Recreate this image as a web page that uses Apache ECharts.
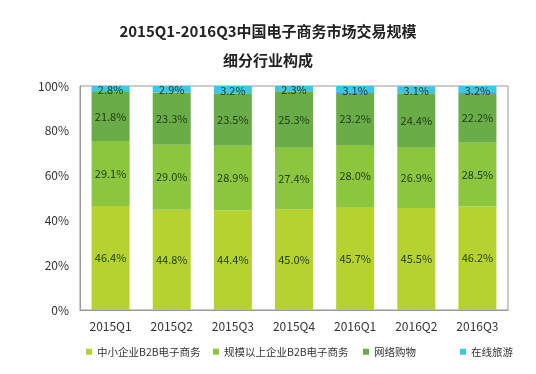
<!DOCTYPE html>
<html><head><meta charset="utf-8">
<script src="https://cdn.jsdelivr.net/npm/echarts@6/dist/echarts.min.js"></script>
<style>html,body{margin:0;padding:0;background:#fff}#c{width:536px;height:374px}</style>
</head><body><div id="c"></div>
<script>
var categories = ['2015Q1','2015Q2','2015Q3','2015Q4','2016Q1','2016Q2','2016Q3'];
var seriesNames = ['中小企业B2B电子商务','规模以上企业B2B电子商务','网络购物','在线旅游'];
var smeB2B = [46.4, 44.8, 44.4, 45.0, 45.7, 45.5, 46.2];
var largeB2B = [29.1, 29.0, 28.9, 27.4, 28.0, 26.9, 28.5];
var onlineShopping = [21.8, 23.3, 23.5, 25.3, 23.2, 24.4, 22.2];
var onlineTravel = [2.8, 2.9, 3.2, 2.3, 3.1, 3.1, 3.2];
var yTicks = ['0%','20%','40%','60%','80%','100%'];

var colors = ['#b5d22e','#8cc63f','#6aad48','#3ec6e8'];
var dataSets = [smeB2B, largeB2B, onlineShopping, onlineTravel];
var legendLeft = [81, 208, 358, 455];
var font = '"Noto Sans CJK SC", "Open Sans", sans-serif';
var chart = echarts.init(document.getElementById('c'));
chart.setOption({
  backgroundColor: '#fff',
  animation: false,
  color: colors,
  title: {
    text: '2015Q1-2016Q3中国电子商务市场交易规模\n细分行业构成',
    left: 'center', top: 12,
    textStyle: {fontFamily: font, fontSize: 15, fontWeight: 'bold', color: '#222', lineHeight: 29}
  },
  legend: seriesNames.map(function (n, i) {
    return {
      bottom: 12, left: legendLeft[i],
      itemWidth: 6, itemHeight: 6,
      icon: 'rect',
      textStyle: {fontFamily: font, fontSize: 10.5, color: '#333'},
      data: [n]
    };
  }),
  grid: {left: 80, right: 28, top: 86, bottom: 64, show: true, borderColor: '#999', borderWidth: 1},
  xAxis: {
    type: 'category', data: categories,
    axisLine: {lineStyle: {color: '#999'}},
    axisTick: {show: false},
    axisLabel: {fontFamily: font, fontSize: 12, color: '#333', margin: 10}
  },
  yAxis: {
    type: 'value', min: 0, max: 100, interval: 20,
    axisLine: {show: true, lineStyle: {color: '#999'}},
    axisTick: {show: false},
    splitLine: {show: false},
    axisLabel: {fontFamily: font, fontSize: 12, color: '#333', margin: 11,
      formatter: function (v) { return yTicks[Math.round(v / 20)]; }}
  },
  series: seriesNames.map(function (n, i) {
    return {
      name: n, type: 'bar', stack: 'total', barWidth: 38,
      data: dataSets[i],
      itemStyle: {color: colors[i]},
      label: {show: true, position: 'inside', fontFamily: font, fontSize: 11, color: '#1d3b10',
        formatter: function (p) { return p.value.toFixed(1) + '%'; },
        offset: i === 3 ? [0, 1] : [0, 0]}
    };
  })
});
</script></body></html>
